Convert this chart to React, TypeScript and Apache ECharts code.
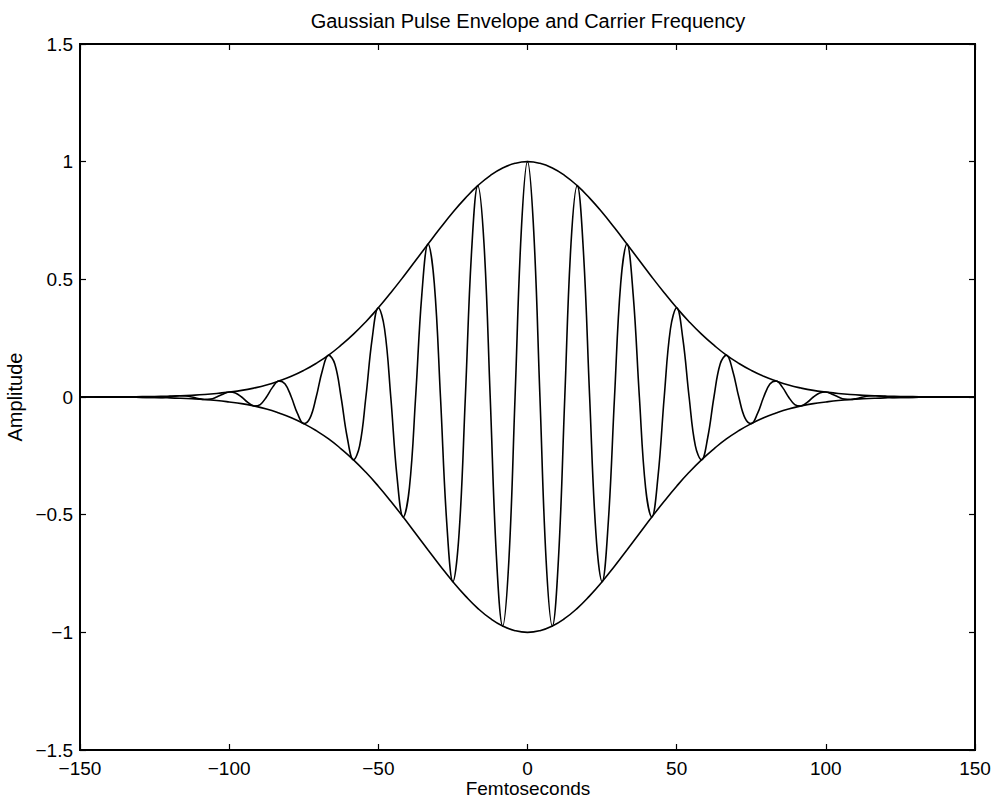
import React, { useEffect, useRef } from "react";
import * as echarts from "echarts";

// Envelope time samples (femtoseconds)
const envTimeFs = [
  -150, -145.83, -141.67, -137.5, -133.33, -129.17, -125, -120.83, -116.67, -112.5, -108.33, -104.17,
  -100, -95.83, -91.67, -87.5, -83.33, -79.17, -75, -70.83, -66.67, -62.5, -58.33, -54.17,
  -50, -45.83, -41.67, -37.5, -33.33, -29.17, -25, -20.83, -16.67, -12.5, -8.33, -4.17,
  0,
  4.17, 8.33, 12.5, 16.67, 20.83, 25, 29.17, 33.33, 37.5, 41.67, 45.83, 50,
  54.17, 58.33, 62.5, 66.67, 70.83, 75, 79.17, 83.33, 87.5, 91.67, 95.83, 100,
  104.17, 108.33, 112.5, 116.67, 120.83, 125, 129.17, 133.33, 137.5, 141.67, 145.83, 150,
];

// Upper envelope
const envelopeUpper = [
  0.0002, 0.0003, 0.0004, 0.0007, 0.001, 0.0016, 0.0023, 0.0035, 0.0051, 0.0074, 0.0105, 0.015,
  0.021, 0.028, 0.038, 0.051, 0.068, 0.088, 0.113, 0.143, 0.178, 0.22, 0.267, 0.32,
  0.379, 0.443, 0.51, 0.58, 0.65, 0.719, 0.785, 0.845, 0.898, 0.941, 0.973, 0.993,
  1,
  0.993, 0.973, 0.941, 0.898, 0.845, 0.785, 0.719, 0.65, 0.58, 0.51, 0.443, 0.379,
  0.32, 0.267, 0.22, 0.178, 0.143, 0.113, 0.088, 0.068, 0.051, 0.038, 0.028, 0.021,
  0.015, 0.0105, 0.0074, 0.0051, 0.0035, 0.0023, 0.0016, 0.001, 0.0007, 0.0004, 0.0003, 0.0002,
];

// Lower envelope
const envelopeLower = [
  -0.0002, -0.0003, -0.0004, -0.0007, -0.001, -0.0016, -0.0023, -0.0035, -0.0051, -0.0074, -0.0105, -0.015,
  -0.021, -0.028, -0.038, -0.051, -0.068, -0.088, -0.113, -0.143, -0.178, -0.22, -0.267, -0.32,
  -0.379, -0.443, -0.51, -0.58, -0.65, -0.719, -0.785, -0.845, -0.898, -0.941, -0.973, -0.993,
  -1,
  -0.993, -0.973, -0.941, -0.898, -0.845, -0.785, -0.719, -0.65, -0.58, -0.51, -0.443, -0.379,
  -0.32, -0.267, -0.22, -0.178, -0.143, -0.113, -0.088, -0.068, -0.051, -0.038, -0.028, -0.021,
  -0.015, -0.0105, -0.0074, -0.0051, -0.0035, -0.0023, -0.0016, -0.001, -0.0007, -0.0004, -0.0003, -0.0002,
];

// Carrier time samples (femtoseconds)
const carrierTimeFs = [
  -150, -137.5,
  -125, -122.92, -120.83, -118.75, -116.67, -114.58, -112.5, -110.42, -108.33, -106.25, -104.17, -102.08,
  -100, -97.92, -95.83, -93.75, -91.67, -89.58, -87.5, -85.42, -83.33, -81.25, -79.17, -77.08,
  -75, -72.92, -70.83, -68.75, -66.67, -64.58, -62.5, -60.42, -58.33, -56.25, -54.17, -52.08,
  -50, -47.92, -45.83, -43.75, -41.67, -39.58, -37.5, -35.42, -33.33, -31.25, -29.17, -27.08,
  -25, -22.92, -20.83, -18.75, -16.67, -14.58, -12.5, -10.42, -8.33, -6.25, -4.17, -2.08,
  0,
  2.08, 4.17, 6.25, 8.33, 10.42, 12.5, 14.58, 16.67, 18.75, 20.83, 22.92, 25,
  27.08, 29.17, 31.25, 33.33, 35.42, 37.5, 39.58, 41.67, 43.75, 45.83, 47.92, 50,
  52.08, 54.17, 56.25, 58.33, 60.42, 62.5, 64.58, 66.67, 68.75, 70.83, 72.92, 75,
  77.08, 79.17, 81.25, 83.33, 85.42, 87.5, 89.58, 91.67, 93.75, 95.83, 97.92, 100,
  102.08, 104.17, 106.25, 108.33, 110.42, 112.5, 114.58, 116.67, 118.75, 120.83, 122.92, 125,
  137.5, 150,
];

// Carrier amplitude
const carrier = [
  0, 0,
  -0.002, -0.002, 0, 0.003, 0.005, 0.004, 0, -0.006, -0.0105, -0.009, 0, 0.012,
  0.021, 0.017, 0, -0.023, -0.038, -0.032, 0, 0.042, 0.068, 0.055, 0, -0.071,
  -0.113, -0.09, 0, 0.113, 0.178, 0.14, 0, -0.172, -0.267, -0.207, 0, 0.247,
  0.379, 0.29, 0, -0.337, -0.51, -0.385, 0, 0.435, 0.65, 0.484, 0, -0.532,
  -0.785, -0.577, 0, 0.617, 0.898, 0.651, 0, -0.678, -0.973, -0.696, 0, 0.706,
  1,
  0.706, 0, -0.696, -0.973, -0.678, 0, 0.651, 0.898, 0.617, 0, -0.577, -0.785,
  -0.532, 0, 0.484, 0.65, 0.435, 0, -0.385, -0.51, -0.337, 0, 0.29, 0.379,
  0.247, 0, -0.207, -0.267, -0.172, 0, 0.14, 0.178, 0.113, 0, -0.09, -0.113,
  -0.071, 0, 0.055, 0.068, 0.042, 0, -0.032, -0.038, -0.023, 0, 0.017, 0.021,
  0.012, 0, -0.009, -0.0105, -0.006, 0, 0.004, 0.005, 0.003, 0, -0.002, -0.002,
  0, 0,
];

const xTicks = { min: -150, max: 150, interval: 50 };
const yTicks = { min: -1.5, max: 1.5, interval: 0.5 };

const titleText = "Gaussian Pulse Envelope and Carrier Frequency";
const xName = "Femtoseconds";
const yName = "Amplitude";

const FONT = "'Liberation Sans', Arial, Helvetica, sans-serif";

export default function App() {
  const ref = useRef<HTMLDivElement>(null);
  useEffect(() => {
    if (!ref.current) return;
    const chart = echarts.init(ref.current, undefined, { renderer: "svg" });
    const pair = (xs: number[], ys: number[]) => xs.map((t, i) => [t, ys[i]]);
    const fmt = (v: number) => String(v).replace("-", "\u2212");
    const lineSeries = (name: string, xs: number[], ys: number[], smooth: number) => ({
      name,
      type: "line",
      data: pair(xs, ys),
      smooth,
      showSymbol: false,
      symbol: "none",
      lineStyle: { color: "#000", width: 1.6 },
      z: 3,
    });
    const tick = { show: true, inside: true, length: 6, lineStyle: { color: "#000", width: 1.2 } };
    chart.setOption({
      animation: false,
      backgroundColor: "#fff",
      grid: {
        left: 80,
        right: 20,
        top: 44,
        bottom: 50,
        containLabel: false,
        outerBoundsMode: "none",
        show: true,
        borderColor: "#000",
        borderWidth: 2,
      },
      graphic: [
        {
          type: "text",
          x: 528,
          y: 21,
          style: {
            text: titleText,
            fill: "#000",
            font: `20px ${FONT}`,
            textAlign: "center",
            textVerticalAlign: "middle",
          },
        },
        {
          type: "text",
          x: 528,
          y: 788,
          style: {
            text: xName,
            fill: "#000",
            font: `19px ${FONT}`,
            textAlign: "center",
            textVerticalAlign: "middle",
          },
        },
      ],
      xAxis: [
        {
          type: "value",
          ...xTicks,
          position: "bottom",
          axisLine: { show: false, onZero: false },
          axisTick: tick,
          axisLabel: { color: "#000", fontSize: 19, fontFamily: FONT, margin: 9, formatter: fmt },
          splitLine: { show: false },
        },
        {
          type: "value",
          ...xTicks,
          position: "top",
          axisLine: { show: false, onZero: false },
          axisTick: tick,
          axisLabel: { show: false },
          splitLine: { show: false },
        },
      ],
      yAxis: [
        {
          type: "value",
          ...yTicks,
          position: "left",
          name: yName,
          nameLocation: "middle",
          nameGap: 50,
          nameRotate: 90,
          nameTextStyle: { color: "#000", fontSize: 20, fontFamily: FONT },
          axisLine: { show: false, onZero: false },
          axisTick: tick,
          axisLabel: { color: "#000", fontSize: 19, fontFamily: FONT, margin: 7, formatter: fmt },
          splitLine: { show: false },
        },
        {
          type: "value",
          ...yTicks,
          position: "right",
          axisLine: { show: false, onZero: false },
          axisTick: tick,
          axisLabel: { show: false },
          splitLine: { show: false },
        },
      ],
      series: [
        lineSeries("Upper envelope", envTimeFs, envelopeUpper, 0.5),
        lineSeries("Lower envelope", envTimeFs, envelopeLower, 0.5),
        lineSeries("Carrier", carrierTimeFs, carrier, 0.4),
      ],
    });
    return () => chart.dispose();
  }, []);
  return (
    <div
      ref={ref}
      style={{ position: "fixed", left: 0, top: 0, width: 995, height: 800, background: "#fff" }}
    />
  );
}
